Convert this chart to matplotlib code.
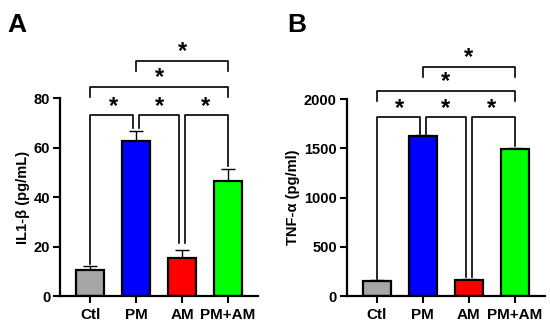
import matplotlib
matplotlib.use("Agg")
import matplotlib.pyplot as plt

plt.rcParams['font.family'] = ['Liberation Sans', 'DejaVu Sans']
plt.rcParams['font.weight'] = 'bold'

groups = ['Ctl', 'PM', 'AM', 'PM+AM']
colors = ['#a6a6a6', '#0000ff', '#ff0000', '#00ff00']

il1b_mean = [10.5, 62.5, 15.5, 46.5]
il1b_err = [1.8, 4.0, 3.0, 5.0]

tnf_mean = [150, 1620, 165, 1490]
tnf_err = [10, 10, 10, 15]

# bracket levels: lower row (with leg ends), then the two upper rows
il1b_low = 73.0
il1b_legs = [13.0, 68.0, 21.5, 52.5]
il1b_mid = 84.5
il1b_top = 95.0

tnf_low = 1817
tnf_legs = [175, 1650, 190, 1520]
tnf_mid = 2085
tnf_top = 2328


def draw_panel(ax, means, errs, ylim, yticks, ylabel, low, legs, mid, top):
    x = range(len(groups))
    ax.bar(x, means, width=0.6, color=colors, edgecolor='black', linewidth=1.6, zorder=2)
    ax.errorbar(x, means, yerr=[[0] * 4, errs], fmt='none', ecolor='black',
                elinewidth=1.0, capsize=5, capthick=1.0, zorder=1)
    ax.set_xlim(-0.66, 3.65)
    ax.set_ylim(*ylim)
    ax.set_yticks(yticks)
    ax.set_xticks(list(x))
    ax.set_xticklabels(groups, fontsize=11, fontweight='bold')
    ax.tick_params(axis='y', labelsize=10.5, width=1.5, length=5, pad=2)
    ax.tick_params(axis='x', width=1.5, length=5)
    for lbl in ax.get_yticklabels():
        lbl.set_fontweight('bold')
    ax.set_ylabel(ylabel, fontsize=10.5, fontweight='bold', labelpad=3)
    for s in ['top', 'right']:
        ax.spines[s].set_visible(False)
    for s in ['left', 'bottom']:
        ax.spines[s].set_linewidth(1.6)

    span = ylim[1] - ylim[0]
    tick = span * 0.05
    d = 0.07
    kw = dict(color='black', lw=1.2, clip_on=False)
    # lower row of brackets
    ax.plot([0, 0, 1 - d, 1 - d], [legs[0], low, low, legs[1]], **kw)
    ax.plot([1 + d, 1 + d, 2 - d, 2 - d], [legs[1], low, low, legs[2]], **kw)
    ax.plot([2 + d, 2 + d, 3, 3], [legs[2], low, low, legs[3]], **kw)
    # upper brackets
    ax.plot([0, 0, 3, 3], [mid - tick, mid, mid, mid - tick], **kw)
    ax.plot([1, 1, 3, 3], [top - tick, top, top, top - tick], **kw)
    star = dict(ha='center', va='center', fontsize=17, fontweight='bold', clip_on=False)
    for xs in [0.5, 1.5, 2.5]:
        ax.text(xs, low + span * 0.045, '*', **star)
    ax.text(1.5, mid + span * 0.045, '*', **star)
    ax.text(2.0, top + span * 0.045, '*', **star)
    return ax


fig = plt.figure(figsize=(5.5, 3.29), dpi=100)
ax1 = fig.add_axes([0.109, 0.100, 0.36, 0.602])
ax2 = fig.add_axes([0.630, 0.100, 0.3605, 0.599])

draw_panel(ax1, il1b_mean, il1b_err, (0, 80), [0, 20, 40, 60, 80],
           'IL1-β (pg/mL)', il1b_low, il1b_legs, il1b_mid, il1b_top)
draw_panel(ax2, tnf_mean, tnf_err, (0, 2000), [0, 500, 1000, 1500, 2000],
           'TNF-α (pg/ml)', tnf_low, tnf_legs, tnf_mid, tnf_top)

fig.text(0.013, 0.96, 'A', fontsize=19, fontweight='bold', va='top')
fig.text(0.522, 0.96, 'B', fontsize=19, fontweight='bold', va='top')

fig.savefig('out.png', dpi=100)
